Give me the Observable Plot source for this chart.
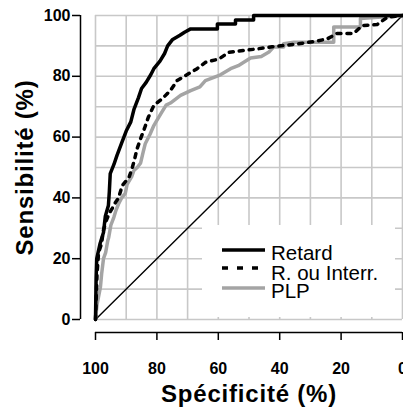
<!DOCTYPE html>
<html><head><meta charset="utf-8">
<script src="https://cdn.jsdelivr.net/npm/d3@7"></script>
<script src="https://cdn.jsdelivr.net/npm/@observablehq/plot@0.6"></script>
<style>
body{margin:0;background:#fff;}
#wrap{position:relative;width:403px;height:407px;overflow:hidden;font-family:"Liberation Sans",Arial,sans-serif;}
#legend{position:absolute;left:202px;top:225px;width:193px;height:92px;background:#fff;}
</style></head><body><div id="wrap"></div>
<script>
// Tick labels and grid
const axisTicks = [0, 20, 40, 60, 80, 100];
const gridTicks = [0, 10, 20, 30, 40, 50, 60, 70, 80, 90, 100];
const xTitle = "Spécificité (%)";
const yTitle = "Sensibilité (%)";
const seriesNames = ["Retard", "R. ou Interr.", "PLP"];

// [spécificité, sensibilité]
const retard = [[100,0],[99.8,13.5],[99.6,20],[98.5,25],[97.4,28.6],[96.8,34],[95.8,37.5],[95.5,42],[95.2,48],[94,51],[93,54],[91.5,58],[90,62],[88.5,65],[87.5,69],[86,73],[85,76],[83.5,78],[82,80.5],[81,82.5],[79,85],[77.5,87.5],[76.5,90],[75,92],[72.5,93.5],[71,94.5],[69,95.6],[60.3,95.6],[60.3,97.2],[54.4,97.2],[54.4,98.5],[48.5,98.5],[48.5,100],[0,100]];
const rouInterr = [[100,0],[99.5,15],[99,22],[98,25],[97.5,29],[96.7,32],[95.5,35],[94.6,36.5],[93.5,38.5],[92.5,40],[91.3,44],[89,47],[88,50],[87.2,53],[86.5,56],[85.3,59.5],[84,63],[82.8,66.5],[81,70.4],[78.3,72.6],[75.6,75.3],[73.4,78.6],[70.1,80.6],[66.9,82.5],[64.2,84.6],[59.8,85.7],[56.6,87.9],[51.7,88.5],[47.4,89],[42.5,89.7],[38.1,90.2],[33.2,90.8],[28.9,91.4],[24.5,92.3],[21.3,94.1],[15.9,94.1],[13.1,96.7],[8.3,97],[5,99.4],[0,100]];
const plp = [[100,0],[99.5,5],[98.4,10.6],[98,15],[97.4,20],[96.7,22],[96,26],[95.7,27],[95,31],[94,33.7],[93.3,36],[92.5,38],[91.5,40],[90.3,41.5],[89.7,44.5],[88.2,47],[87.5,49],[86.4,50],[85.3,51.5],[84.5,55],[83.8,57.8],[82.2,61],[81,63.8],[80.3,65],[78.6,67.9],[77,70.5],[75.6,71.2],[72.3,73.7],[69,75.3],[66,76.5],[64.2,78.6],[59.3,80.5],[56,82.5],[53.5,83.5],[51.7,84.6],[49.5,86],[46,86.5],[43.5,88],[42,89.6],[38.7,89.6],[38.7,90.7],[35.4,91.2],[22.4,91.2],[22.4,96.2],[13.7,96.2],[13.7,99],[0,100]];
const chance = [[100,0],[0,100]];

const GRAY = "#a4a4a4";
const GRID = "#c8c8c8";

const chart = Plot.plot({
  width: 403,
  height: 407,
  marginLeft: 95,
  marginRight: 1,
  marginTop: 15,
  marginBottom: 88,
  style: {fontFamily: "'Liberation Sans', Arial, sans-serif", fontSize: "16px", fontWeight: "bold", color: "#000", background: "#fff", overflow: "visible"},
  x: {domain: [100, 0], label: null},
  y: {domain: [0, 100], label: null},
  marks: [
    Plot.gridX(gridTicks, {stroke: GRID, strokeOpacity: 1, strokeWidth: 1.6}),
    Plot.gridY(gridTicks, {stroke: GRID, strokeOpacity: 1, strokeWidth: 1.6}),
    Plot.line(chance, {x: d => d[0], y: d => d[1], stroke: "#000", strokeWidth: 1.4}),
    Plot.line(plp, {x: d => d[0], y: d => d[1], stroke: GRAY, strokeWidth: 3.5}),
    Plot.line(rouInterr, {x: d => d[0], y: d => d[1], stroke: "#000", strokeWidth: 3.5, strokeDasharray: "4,6"}),
    Plot.line(retard, {x: d => d[0], y: d => d[1], stroke: "#000", strokeWidth: 3.5}),
    // detached axes
    Plot.ruleX([100], {y1: 0, y2: 100, dx: -15, stroke: "#000", strokeWidth: 1.5}),
    Plot.axisY(axisTicks, {anchor: "left", dx: -15, tickSize: 8, tickPadding: 2, tickFormat: d => d, fontSize: 16, fontWeight: "bold", label: null, strokeWidth: 1.5}),
    Plot.ruleY([0], {x1: 100, x2: 0, dy: 13, stroke: "#000", strokeWidth: 1.5}),
    Plot.axisX(axisTicks, {anchor: "bottom", dy: 13, tickSize: 8, tickPadding: 22, tickFormat: d => d, fontSize: 16, fontWeight: "bold", label: null, strokeWidth: 1.5}),
    Plot.text([xTitle], {frameAnchor: "bottom", lineAnchor: "middle", textAnchor: "middle", dy: 75, fontSize: 24, fontWeight: "bold", fill: "#000"}),
    Plot.text([yTitle], {frameAnchor: "left", lineAnchor: "middle", textAnchor: "middle", dx: -70, rotate: -90, fontSize: 24, fontWeight: "bold", fill: "#000"})
  ]
});
// slightly wider title spacing, as in the reference
chart.querySelectorAll("text").forEach(t => {
  if (t.textContent === xTitle || t.textContent === yTitle) t.setAttribute("letter-spacing", "0.8");
});
document.getElementById("wrap").appendChild(chart);

// Legend (inside the plot area, overlay)
const legend = document.createElement("div");
legend.id = "legend";
const styles = [
  {stroke: "#000", dash: null},
  {stroke: "#000", dash: "6,9"},
  {stroke: GRAY, dash: null}
];
const lineY = [25, 43, 63];
const textY = [35, 55, 73];
let svg = `<svg width="193" height="92" style="display:block">`;
seriesNames.forEach((name, i) => {
  svg += `<line x1="20" x2="63" y1="${lineY[i]}" y2="${lineY[i]}" stroke="${styles[i].stroke}" stroke-width="3.5" ${styles[i].dash ? `stroke-dasharray="${styles[i].dash}"` : ""}/>`;
  svg += `<text x="69" y="${textY[i]}" font-family="'Liberation Sans', Arial, sans-serif" font-size="20.5" fill="#000">${name}</text>`;
});
svg += `</svg>`;
legend.innerHTML = svg;
document.getElementById("wrap").appendChild(legend);
</script>
</body></html>
